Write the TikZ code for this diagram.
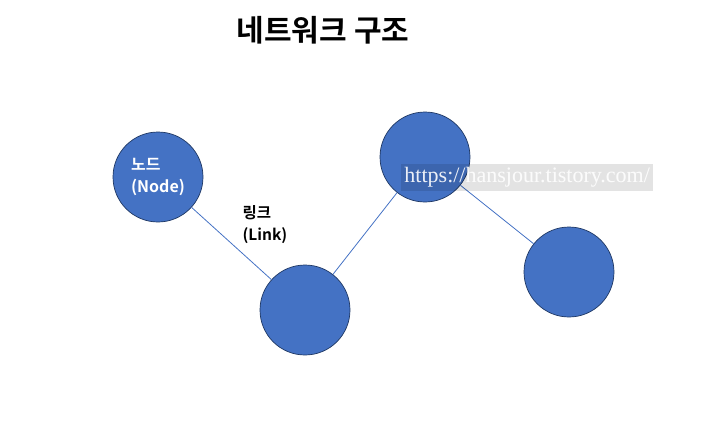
\documentclass[tikz,border=0pt]{standalone}
\usepackage{fontspec}
\newfontfamily\kr{Noto Sans CJK KR}[BoldFont={* Bold}]
\newfontfamily\wm{Liberation Serif}
\definecolor{nodeblue}{HTML}{4472C4}
\definecolor{nodeedge}{HTML}{1F3864}
\begin{document}
\begin{tikzpicture}[x=1pt,y=-1pt,
  netnode/.style={circle,fill=nodeblue,draw=nodeedge,line width=0.7pt,minimum size=90pt,inner sep=0pt,
    text=white,font=\kr\bfseries\fontsize{16}{22}\selectfont,align=left},
  netlink/.style={draw=nodeblue,line width=0.8pt}]
\useasboundingbox (0,0) rectangle (710,440);
\node[font=\kr\bfseries\fontsize{30}{34}\selectfont] (title) at (323,30) {네트워크 구조};
\node[netnode] (n1) at (158,177) {노드\\(Node)};
\node[netnode] (n2) at (305,310) {};
\node[netnode] (n3) at (425,157) {};
\node[netnode] (n4) at (569,272) {};
\draw[netlink] (n1) -- (n2);
\draw[netlink] (n2) -- (n3);
\draw[netlink] (n3) -- (n4);
\node[anchor=west,align=left,font=\kr\bfseries\fontsize{15.5}{22}\selectfont] (linklbl) at (239,225) {링크\\(Link)};
\node[anchor=west,fill=black,fill opacity=0.11,text opacity=0.9,text=white,minimum width=252pt,minimum height=27pt,inner sep=1pt,
  font=\wm\fontsize{22}{22}\selectfont] (wmark) at (401,177) {https://hansjour.tistory.com/};
\end{tikzpicture}
\end{document}
